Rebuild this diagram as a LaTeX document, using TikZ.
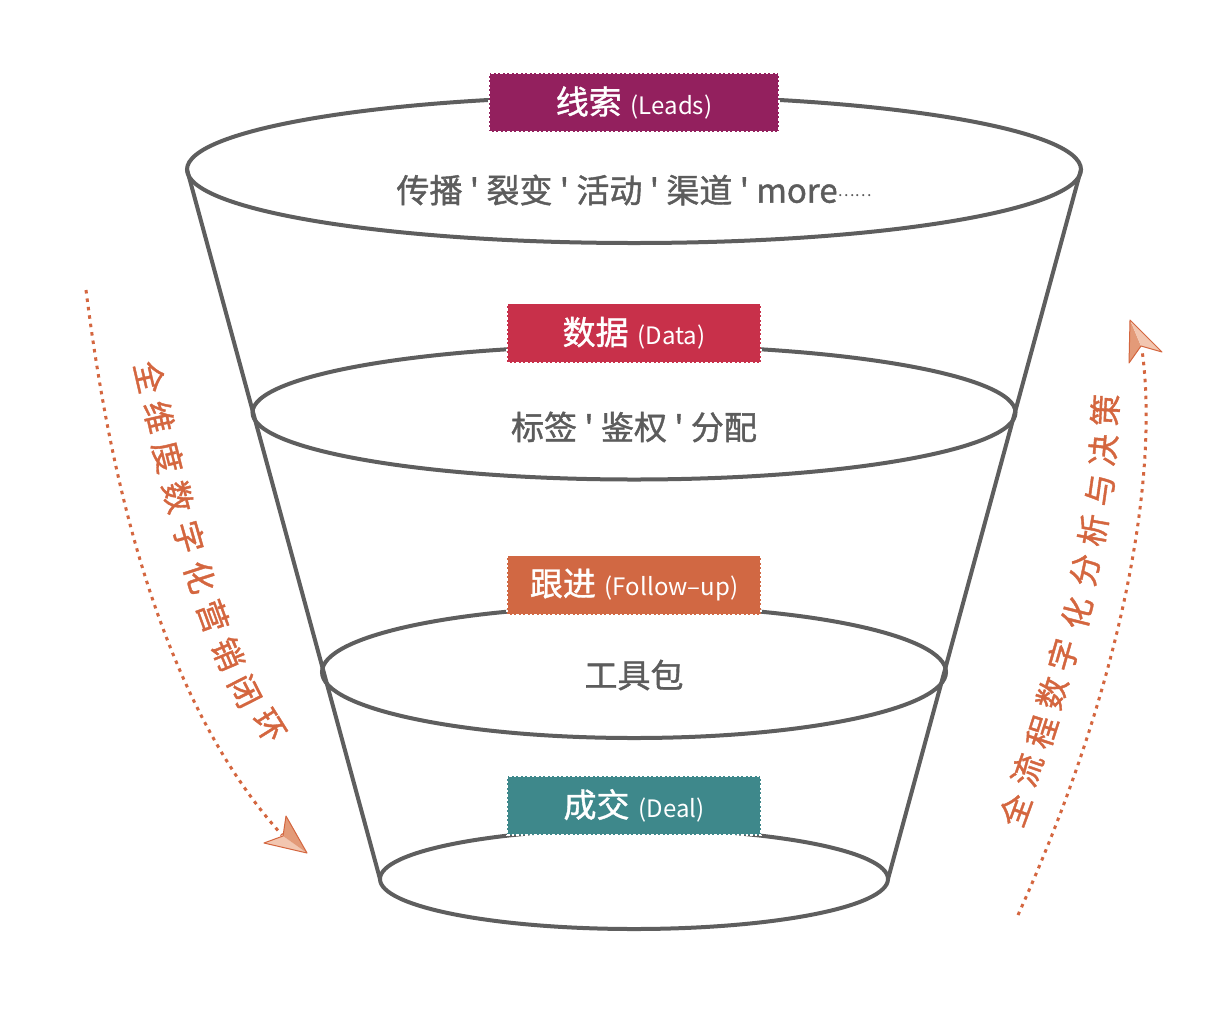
\documentclass[tikz,border=0pt]{standalone}
\usepackage{fontspec}
\newfontfamily\cjk{Noto Sans CJK SC}
\newfontfamily\cjkmed{Noto Sans CJK SC}[FakeBold=1.2]
\usetikzlibrary{shapes.geometric}
\definecolor{lineg}{HTML}{5E5E5E}
\definecolor{txtg}{HTML}{5C5C5C}
\definecolor{cleads}{HTML}{93205E}
\definecolor{cdata}{HTML}{C8304A}
\definecolor{cfollow}{HTML}{D16843}
\definecolor{cdeal}{HTML}{3E888B}
\definecolor{corange}{HTML}{D4663F}
\definecolor{clight}{HTML}{F2C6B0}
\definecolor{cdark}{HTML}{E39A78}
\newcommand\tagtext[2]{{\cjkmed\fontsize{33}{33}\selectfont #1}\hspace{9pt}{\fontsize{24}{24}\selectfont #2}}
\begin{document}
\begin{tikzpicture}[x=1pt,y=-1pt,
  funnelring/.style={ellipse, draw=lineg, line width=4pt, inner sep=0pt, outer sep=0pt},
  funnelside/.style={draw=lineg, line width=4pt, line cap=round},
  labelbox/.style={rectangle, fill=#1, draw=white, line width=1.5pt, dash pattern=on 2.5pt off 2pt, minimum width=254pt, minimum height=59pt, inner sep=0pt, text=white, font=\cjk},
  bodytext/.style={text=txtg, font=\cjkmed\fontsize{33}{33}\selectfont, inner sep=0pt},
  sidetxt/.style={text=corange, font=\cjkmed\fontsize{32}{32}\selectfont, inner sep=0pt},
  flowline/.style={draw=corange, line width=3pt, dash pattern=on 3.5pt off 5pt},
  headedge/.style={draw=corange, line width=1pt, line join=round},
]
\fill[white] (0,0) rectangle (1225,1029);
\useasboundingbox (0,0) rectangle (1225,1029);

% funnel rings
\node[funnelring, minimum width=894pt, minimum height=147pt] (e1) at (634,169.5) {};
\node[funnelring, minimum width=763pt, minimum height=134pt] (e2) at (634,412.5) {};
\node[funnelring, minimum width=624pt, minimum height=132pt] (e3) at (634,672) {};
\node[funnelring, minimum width=508pt, minimum height=100pt] (e4) at (634,879) {};
\draw[funnelside] (e1.west) -- (e4.west);
\draw[funnelside] (e1.east) -- (e4.east);

% labels
\node[labelbox=cleads, minimum width=290pt] (l1) at (634,102.5) {\tagtext{线索}{(Leads)}};
\node[labelbox=cdata] (l2) at (634,333) {\tagtext{数据}{(Data)}};
\node[labelbox=cfollow] (l3) at (634,585) {\tagtext{跟进}{(Follow–up)}};
\node[labelbox=cdeal] (l4) at (634,805.5) {\tagtext{成交}{(Deal)}};

% body texts
\node[bodytext] (t1) at (634,190) {传播 ' 裂变 ' 活动 ' 渠道 ' more\raisebox{6pt}{\cjk\fontsize{16}{16}\selectfont ……}};
\node[bodytext] (t2) at (634,427) {标签 ' 鉴权 ' 分配};
\node[bodytext] (t3) at (634,675) {工具包};

% left flow
\coordinate (lstart) at (86,290);
\coordinate (lend) at (282,835);
\draw[flowline] (lstart) .. controls (110,480) and (160,700) .. (lend);
\coordinate (lT) at (307,853);
\coordinate (lW1) at (264,843);
\coordinate (lW2) at (286,816);
\coordinate (lN) at (283,836);
\fill[clight] (lT) -- (lW1) -- (lN) -- cycle;
\fill[cdark] (lT) -- (lN) -- (lW2) -- cycle;
\draw[headedge] (lT) -- (lW1) -- (lN) -- (lW2) -- cycle;

% right flow
\coordinate (rstart) at (1018,915);
\coordinate (rend) at (1142,350);
\draw[flowline] (rstart) .. controls (1120,690) and (1160,480) .. (rend);
\coordinate (rT) at (1130,320);
\coordinate (rW1) at (1129,363);
\coordinate (rW2) at (1162,352);
\coordinate (rN) at (1141,346);
\fill[cdark] (rT) -- (rW1) -- (rN) -- cycle;
\fill[clight] (rT) -- (rN) -- (rW2) -- cycle;
\draw[headedge] (rT) -- (rW1) -- (rN) -- (rW2) -- cycle;

% side texts
\foreach \c/\x/\y/\r [count=\i] in {全/150/377/-77, 维/159/417/-77, 度/168/457/-76, 数/178/497/-75, 字/189/537/-74, 化/200/577/-72, 营/213/616/-70, 销/228/654/-67, 闭/245/691/-63, 环/269/726/-58}
  \node[sidetxt, rotate=\r] (lc\i) at (\x,\y) {\c};
\foreach \c/\x/\y/\r [count=\i] in {全/1015/810/70, 流/1027/770/71, 程/1042/732/72, 数/1052/693/73, 字/1063/655/74, 化/1077/613/76, 分/1085/570/78, 析/1093/530/80, 与/1100/490/82, 决/1103/450/85, 策/1105/410/87}
  \node[sidetxt, rotate=\r] (rc\i) at (\x,\y) {\c};
\end{tikzpicture}
\end{document}
